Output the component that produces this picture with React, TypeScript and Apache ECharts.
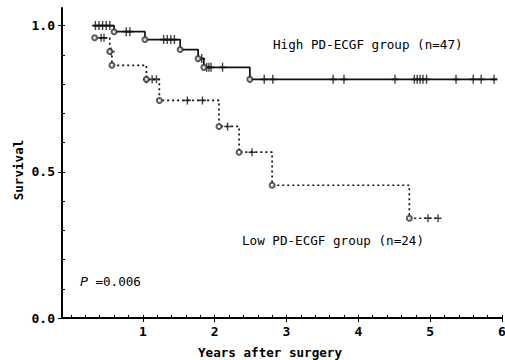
import React, { useEffect, useRef } from "react";
import * as echarts from "echarts";

// Kaplan-Meier steps: [years, survival] (event points, step drawn at each)
const highSteps: number[][] = [
  [0.31, 1.0], [0.6, 0.979], [1.03, 0.952], [1.52, 0.918], [1.77, 0.887],
  [1.85, 0.857], [2.49, 0.816], [5.93, 0.816],
];
const highEvents: number[][] = [
  [0.6, 0.979], [1.03, 0.952], [1.52, 0.918], [1.77, 0.887], [1.85, 0.857], [2.49, 0.816],
];
const highCensorTimes: number[] = [
  0.34, 0.39, 0.44, 0.49, 0.54, 0.77, 0.82, 1.29, 1.34, 1.39, 1.44, 1.82,
  1.89, 1.92, 1.95, 2.11, 2.69, 2.81, 3.65, 3.8, 4.51, 4.78, 4.82, 4.86,
  4.9, 4.95, 5.36, 5.6, 5.71, 5.89,
];

const lowSteps: number[][] = [
  [0.33, 0.958], [0.54, 0.911], [0.57, 0.864], [1.05, 0.816], [1.23, 0.744],
  [2.06, 0.655], [2.34, 0.567], [2.8, 0.454], [4.71, 0.341], [5.11, 0.341],
];
const lowEvents: number[][] = [
  [0.33, 0.958], [0.54, 0.911], [0.57, 0.864], [1.05, 0.816], [1.23, 0.744],
  [2.06, 0.655], [2.34, 0.567], [2.8, 0.454], [4.71, 0.341],
];
const lowCensorTimes: number[] = [
  0.42, 0.46, 0.56, 1.05, 1.13, 1.19, 1.62, 1.83, 2.18, 2.52, 4.97, 5.11,
];

const xLabelValues = [1, 2, 3, 4, 5, 6];
const xMinorTicks = Array.from({ length: 31 }, (_, i) => +(i * 0.2).toFixed(1));
const yLabelValues = [0, 0.5, 1.0];
const yMinorTicks = Array.from({ length: 11 }, (_, i) => +(i * 0.1).toFixed(1));

function levelAt(steps: number[][], t: number): number {
  let s = steps[0][1];
  for (const [x, y] of steps) {
    if (x <= t + 1e-9) s = y;
  }
  return s;
}

const PLUS = "path://M4,0H6V4H10V6H6V10H4V6H0V4H4Z";
const FONT = "DejaVu Sans Mono";

export default function App() {
  const ref = useRef<HTMLDivElement>(null);
  useEffect(() => {
    if (!ref.current) return;
    const chart = echarts.init(ref.current, null, { renderer: "svg" });
    const axisCommon = {
      type: "value" as const,
      splitLine: { show: false },
    };
    chart.setOption({
      animation: false,
      backgroundColor: "#fff",
      grid: { left: 62, right: 3, top: 8, bottom: 42, containLabel: false, outerBoundsMode: "none" },
      xAxis: [
        {
          ...axisCommon,
          min: -0.125,
          max: 6,
          axisLine: { show: true, onZero: false, lineStyle: { color: "#000", width: 2 } },
          axisTick: { show: true, customValues: xLabelValues, length: 4, lineStyle: { color: "#000" } },
          axisLabel: {
            customValues: xLabelValues,
            color: "#000",
            fontFamily: FONT,
            fontSize: 13,
            fontWeight: "bold",
            margin: 7,
            hideOverlap: false,
          },
        },
        {
          ...axisCommon,
          min: -0.125,
          max: 6,
          position: "bottom",
          axisLine: { show: false, onZero: false },
          axisTick: { show: true, inside: true, customValues: xMinorTicks, length: 3, lineStyle: { color: "#000" } },
          axisLabel: { show: false },
        },
      ],
      yAxis: [
        {
          ...axisCommon,
          min: 0,
          max: 1.06,
          axisLine: { show: true, onZero: false, lineStyle: { color: "#000", width: 2 } },
          axisTick: { show: true, customValues: yLabelValues, length: 4, lineStyle: { color: "#000" } },
          axisLabel: {
            customValues: yLabelValues,
            formatter: (v: number) => v.toFixed(1),
            color: "#000",
            fontFamily: FONT,
            fontSize: 13,
            fontWeight: "bold",
            margin: 7,
          },
        },
        {
          ...axisCommon,
          min: 0,
          max: 1.06,
          position: "left",
          axisLine: { show: false, onZero: false },
          axisTick: { show: true, inside: true, customValues: yMinorTicks, length: 3, lineStyle: { color: "#000" } },
          axisLabel: { show: false },
        },
      ],
      series: [
        {
          type: "line",
          step: "end",
          data: highSteps,
          showSymbol: false,
          lineStyle: { color: "#111", width: 1.7 },
          z: 3,
        },
        {
          type: "line",
          step: "end",
          data: lowSteps,
          showSymbol: false,
          lineStyle: { color: "#111", width: 1.7, type: [2, 3] },
          z: 3,
        },
        {
          type: "scatter",
          data: highCensorTimes.map((t) => [t, levelAt(highSteps, t)]),
          symbol: PLUS,
          symbolSize: [7, 9],
          itemStyle: { color: "#111" },
          z: 4,
        },
        {
          type: "scatter",
          data: lowCensorTimes.map((t) => [t, levelAt(lowSteps, t)]),
          symbol: PLUS,
          symbolSize: [7, 8],
          itemStyle: { color: "#111" },
          z: 4,
        },
        {
          type: "scatter",
          data: [...highEvents, ...lowEvents],
          symbol: "emptyCircle",
          symbolSize: 5,
          itemStyle: { color: "#333", borderWidth: 1 },
          z: 5,
        },
      ],
      graphic: [
        {
          type: "text",
          left: 273,
          top: 38,
          style: { text: "High PD-ECGF group (n=47)", fontFamily: FONT, fontSize: 12.6, fill: "#000" },
        },
        {
          type: "text",
          left: 242,
          top: 234,
          style: { text: "Low PD-ECGF group (n=24)", fontFamily: FONT, fontSize: 12.6, fill: "#000" },
        },
        {
          type: "text",
          left: 80,
          top: 275,
          style: {
            text: "{i|P} =0.006",
            fontFamily: FONT,
            fontSize: 12.6,
            fill: "#000",
            rich: {
              i: { fontFamily: "DejaVu Sans", fontStyle: "italic", fontSize: 13, fill: "#000" },
            },
          },
        },
        {
          type: "text",
          x: 18,
          y: 170,
          rotation: Math.PI / 2,
          style: {
            text: "Survival",
            fontFamily: FONT,
            fontSize: 12.6,
            fontWeight: "bold",
            fill: "#000",
            align: "center",
            verticalAlign: "middle",
          },
        },
        {
          type: "text",
          x: 270,
          y: 352,
          style: {
            text: "Years after surgery",
            fontFamily: FONT,
            fontSize: 12.6,
            fontWeight: "bold",
            fill: "#000",
            align: "center",
            verticalAlign: "middle",
          },
        },
      ],
    });
    return () => chart.dispose();
  }, []);
  return (
    <div
      ref={ref}
      style={{ position: "fixed", left: 0, top: 0, width: 505, height: 360, background: "#fff" }}
    />
  );
}
